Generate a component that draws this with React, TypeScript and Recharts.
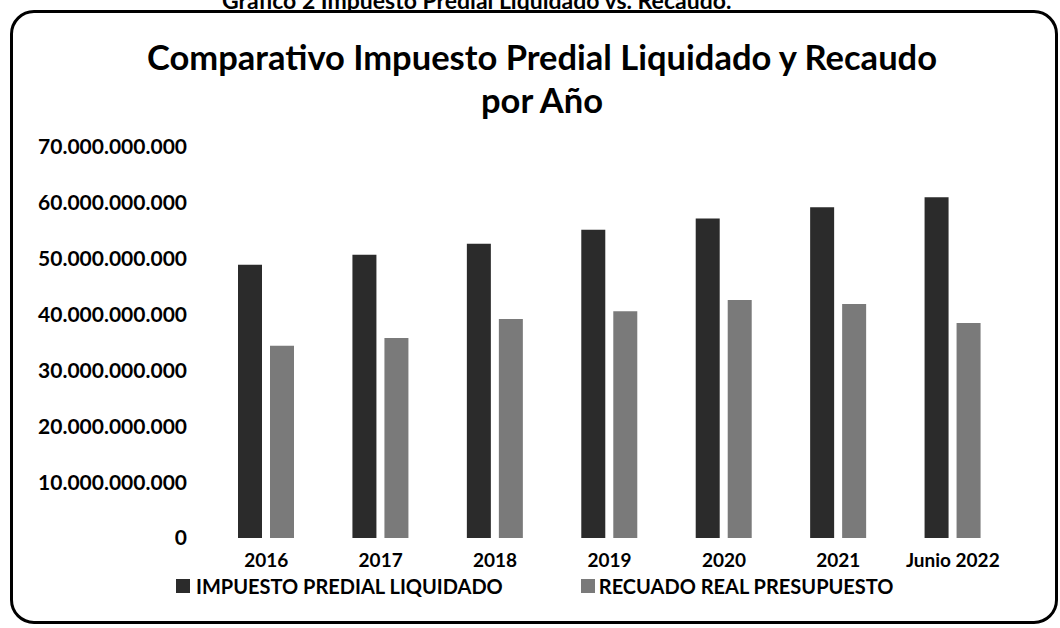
import { BarChart, Bar, XAxis, YAxis } from 'recharts';

const years = ['2016', '2017', '2018', '2019', '2020', '2021', 'Junio 2022'];
const impuestoLiquidado = [
  48900000000, 50700000000, 52700000000, 55200000000, 57200000000, 59200000000, 61000000000,
];
const recaudoReal = [
  34400000000, 35800000000, 39200000000, 40600000000, 42600000000, 41900000000, 38500000000,
];
const yTicks = [0, 10000000000, 20000000000, 30000000000, 40000000000, 50000000000, 60000000000, 70000000000];

const data = years.map((year, i) => ({
  year,
  liquidado: impuestoLiquidado[i],
  recaudo: recaudoReal[i],
}));

const FONT = 'Lato, "Open Sans", sans-serif';
const DARK = '#2b2b2b';
const LIGHT = '#7a7a7a';

// 70000000000 -> 70.000.000.000
const formatMiles = (v: number): string => String(v).replace(/\B(?=(\d{3})+(?!\d))/g, '.');

export default function App() {
  return (
    <div
      style={{
        position: 'absolute',
        left: 0,
        top: 0,
        width: 1060,
        height: 628,
        background: '#fff',
        overflow: 'hidden',
        fontFamily: FONT,
        color: '#000',
      }}
    >
      {/* heading of the page, cut by the scan */}
      <div
        style={{
          position: 'absolute',
          left: 222,
          top: -12,
          fontSize: 23,
          fontWeight: 700,
          whiteSpace: 'nowrap',
          textDecoration: 'underline',
          lineHeight: '24px',
        }}
      >
        Gráfico 2 Impuesto Predial Liquidado vs. Recaudo.
      </div>

      {/* rounded frame */}
      <div
        style={{
          position: 'absolute',
          left: 10,
          top: 10,
          width: 1048,
          height: 614,
          border: '3px solid #000',
          borderRadius: 24,
          boxSizing: 'border-box',
          background: 'transparent',
        }}
      />

      <div
        style={{
          position: 'absolute',
          left: 0,
          width: 1060,
          top: 35,
          textAlign: 'center',
          paddingLeft: 24,
          boxSizing: 'border-box',
          fontSize: 34.5,
          fontWeight: 700,
          lineHeight: '43px',
          whiteSpace: 'nowrap',
        }}
      >
        Comparativo Impuesto Predial Liquidado y Recaudo
        <br />
        por Año
      </div>

      <div style={{ position: 'absolute', left: 0, top: 0 }}>
        <BarChart
          width={1060}
          height={628}
          data={data}
          margin={{ top: 147, right: 50, left: 0, bottom: 60 }}
          barSize={24}
          barGap={8}
        >
          <XAxis
            dataKey="year"
            axisLine={false}
            tickLine={false}
            tickSize={0}
            tickMargin={16}
            height={30}
            interval={0}
            tick={{ fill: '#000', fontSize: 19, fontWeight: 700, fontFamily: FONT }}
          />
          <YAxis
            width={209}
            domain={[0, 70000000000]}
            ticks={yTicks}
            axisLine={false}
            tickLine={false}
            tickSize={0}
            tickMargin={22}
            tickFormatter={formatMiles}
            tick={{ fill: '#000', fontSize: 21, fontWeight: 700, fontFamily: FONT }}
          />
          <Bar dataKey="liquidado" name="IMPUESTO PREDIAL LIQUIDADO" fill={DARK} isAnimationActive={false} />
          <Bar dataKey="recaudo" name="RECUADO REAL PRESUPUESTO" fill={LIGHT} isAnimationActive={false} />
        </BarChart>
      </div>

      {/* legend */}
      <div
        style={{
          position: 'absolute',
          left: 176,
          top: 575,
          display: 'flex',
          alignItems: 'center',
          fontSize: 20,
          fontWeight: 700,
          whiteSpace: 'nowrap',
          lineHeight: '22px',
        }}
      >
        <span style={{ width: 14, height: 14, background: DARK, marginRight: 6 }} />
        <span>IMPUESTO PREDIAL LIQUIDADO</span>
        <span style={{ width: 14, height: 14, background: LIGHT, marginLeft: 78, marginRight: 4 }} />
        <span>RECUADO REAL PRESUPUESTO</span>
      </div>
    </div>
  );
}
